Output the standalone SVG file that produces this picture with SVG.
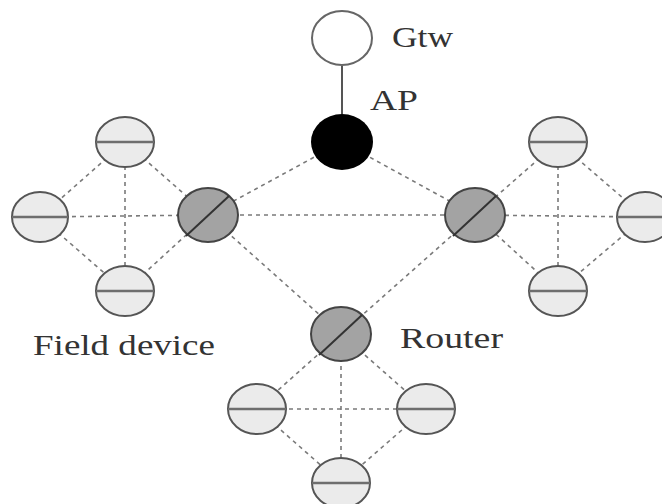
<svg xmlns="http://www.w3.org/2000/svg" width="662" height="504" viewBox="0 0 662 504">
<style>
.e{stroke:#7a7a7a;stroke-width:1.6;stroke-dasharray:4 4;fill:none}
.s{stroke:#555;stroke-width:2;fill:none}
.fd{fill:#ebebeb;stroke:#555;stroke-width:2}
.fl{stroke:#6e6e6e;stroke-width:2.5}
.rt{fill:#a3a3a3;stroke:#444;stroke-width:2}
.rl{stroke:#333;stroke-width:2}
.t{font-family:"Liberation Serif","DejaVu Serif",serif;font-size:29px;fill:#333}
</style>
<rect width="662" height="504" fill="#fff"/>
<g id="connectors">
<line class="s" x1="342" y1="66" x2="342" y2="114"/>
<line class="e" x1="342" y1="142" x2="208" y2="215"/>
<line class="e" x1="342" y1="142" x2="475" y2="215"/>
<line class="e" x1="208" y1="215" x2="475" y2="215"/>
<line class="e" x1="208" y1="215" x2="341" y2="334"/>
<line class="e" x1="475" y1="215" x2="341" y2="334"/>
<line class="e" x1="125" y1="142" x2="40" y2="217"/>
<line class="e" x1="125" y1="142" x2="208" y2="215"/>
<line class="e" x1="40" y1="217" x2="208" y2="215"/>
<line class="e" x1="40" y1="217" x2="125" y2="291"/>
<line class="e" x1="125" y1="291" x2="208" y2="215"/>
<line class="e" x1="125" y1="142" x2="125" y2="291"/>
<line class="e" x1="558" y1="142" x2="645" y2="217"/>
<line class="e" x1="558" y1="142" x2="475" y2="215"/>
<line class="e" x1="645" y1="217" x2="475" y2="215"/>
<line class="e" x1="645" y1="217" x2="558" y2="291"/>
<line class="e" x1="558" y1="291" x2="475" y2="215"/>
<line class="e" x1="558" y1="142" x2="558" y2="291"/>
<line class="e" x1="341" y1="334" x2="257" y2="409"/>
<line class="e" x1="341" y1="334" x2="426" y2="409"/>
<line class="e" x1="341" y1="334" x2="341" y2="483"/>
<line class="e" x1="257" y1="409" x2="426" y2="409"/>
<line class="e" x1="257" y1="409" x2="341" y2="483"/>
<line class="e" x1="426" y1="409" x2="341" y2="483"/>
</g>
<g id="gtw"><ellipse cx="342" cy="38" rx="30" ry="27" fill="#fff" stroke="#666" stroke-width="2"/></g>
<g id="ap"><ellipse cx="342" cy="142" rx="31" ry="28" fill="#000"/></g>
<g id="router-left"><ellipse class="rt" cx="208" cy="215" rx="30" ry="27"/><line class="rl" x1="186" y1="236" x2="229" y2="196"/></g>
<g id="router-right"><ellipse class="rt" cx="475" cy="215" rx="30" ry="27"/><line class="rl" x1="453" y1="236" x2="496" y2="196"/></g>
<g id="router-bottom"><ellipse class="rt" cx="341" cy="334" rx="30" ry="27"/><line class="rl" x1="319" y1="355" x2="362" y2="315"/></g>
<g id="fd-l1"><ellipse class="fd" cx="125" cy="142" rx="29" ry="25"/><line class="fl" x1="96" y1="142" x2="154" y2="142"/></g>
<g id="fd-l2"><ellipse class="fd" cx="40" cy="217" rx="28" ry="25"/><line class="fl" x1="12" y1="217" x2="68" y2="217"/></g>
<g id="fd-l3"><ellipse class="fd" cx="125" cy="291" rx="29" ry="25"/><line class="fl" x1="96" y1="291" x2="154" y2="291"/></g>
<g id="fd-r1"><ellipse class="fd" cx="558" cy="142" rx="29" ry="25"/><line class="fl" x1="529" y1="142" x2="587" y2="142"/></g>
<g id="fd-r2"><ellipse class="fd" cx="645" cy="217" rx="28" ry="25"/><line class="fl" x1="617" y1="217" x2="673" y2="217"/></g>
<g id="fd-r3"><ellipse class="fd" cx="558" cy="291" rx="29" ry="25"/><line class="fl" x1="529" y1="291" x2="587" y2="291"/></g>
<g id="fd-b1"><ellipse class="fd" cx="257" cy="409" rx="29" ry="25"/><line class="fl" x1="228" y1="409" x2="286" y2="409"/></g>
<g id="fd-b2"><ellipse class="fd" cx="426" cy="409" rx="29" ry="25"/><line class="fl" x1="397" y1="409" x2="455" y2="409"/></g>
<g id="fd-b3"><ellipse class="fd" cx="341" cy="483" rx="29" ry="25"/><line class="fl" x1="312" y1="483" x2="370" y2="483"/></g>
<g id="labels">
<text class="t" x="392" y="47" textLength="61" lengthAdjust="spacingAndGlyphs">Gtw</text>
<text class="t" x="370" y="110" textLength="48" lengthAdjust="spacingAndGlyphs">AP</text>
<text class="t" x="400" y="348" textLength="103" lengthAdjust="spacingAndGlyphs">Router</text>
<text class="t" x="33" y="355" textLength="182" lengthAdjust="spacingAndGlyphs">Field device</text>
</g>
</svg>
